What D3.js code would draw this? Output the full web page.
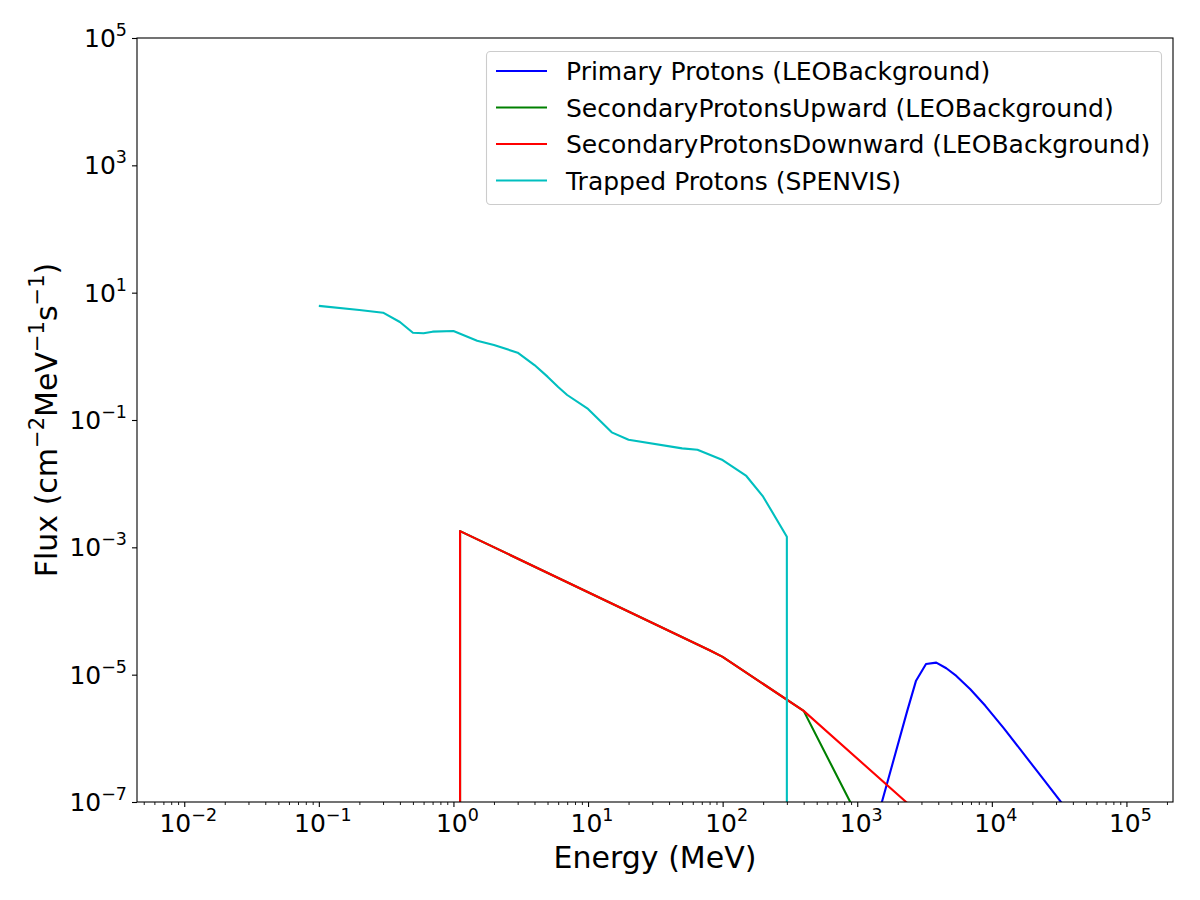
<!DOCTYPE html>
<html><head><meta charset="utf-8">
<script src="https://cdn.jsdelivr.net/npm/d3@7"></script>
<style>body{margin:0;background:#fff}svg{display:block}text{font-family:"DejaVu Sans",sans-serif;fill:#000}</style>
</head><body><svg id="c" width="1200" height="900"></svg>
<script>
// ---- data ----
const trappedE = [0.1, 0.2, 0.3, 0.4, 0.5, 0.6, 0.7, 1, 1.5, 2, 3, 4, 5, 6, 7, 10, 15, 20, 50, 65, 100, 150, 200, 300, 300];
const trappedF = [6.2, 5.35, 4.85, 3.46, 2.35, 2.3, 2.44, 2.5, 1.76, 1.51, 1.14, 0.73, 0.48, 0.33, 0.247, 0.149, 0.064, 0.049, 0.0358, 0.034, 0.0235, 0.0132, 0.00625, 0.00147, 1e-12];
const downE = [1.12, 1.12, 80, 100, 400, 3000];
const downF = [1e-12, 0.0018, 2.42e-5, 1.9e-5, 2.7e-6, 6.1e-8];
const upE = [1.12, 1.12, 80, 100, 400, 1000];
const upF = [1e-12, 0.0018, 2.42e-5, 1.9e-5, 2.7e-6, 6.1e-8];
const primE = [1250, 2344, 2735, 3243, 3866, 4590, 5450, 6920, 8950, 12250, 17260, 24300, 32400, 50000];
const primF = [2.2e-8, 2.63e-6, 8.05e-6, 1.47e-5, 1.545e-5, 1.26e-5, 9.55e-6, 5.9e-6, 3.24e-6, 1.45e-6, 5.7e-7, 2.24e-7, 1.02e-7, 3.2e-8];
const xTickExp = [-2, -1, 0, 1, 2, 3, 4, 5];
const yTickExp = [-7, -5, -3, -1, 1, 3, 5];
const seriesNames = ["Primary Protons (LEOBackground)", "SecondaryProtonsUpward (LEOBackground)", "SecondaryProtonsDownward (LEOBackground)", "Trapped Protons (SPENVIS)"];
const seriesColors = ["#0000ff", "#008000", "#ff0000", "#00bfbf"];

const series = [
  {E: primE, F: primF},
  {E: upE, F: upF},
  {E: downE, F: downF},
  {E: trappedE, F: trappedF}
];

// ---- layout ----
const L = 137, T = 38, R = 1173, B = 802;
const svg = d3.select("#c");
const x = d3.scaleLog().domain([Math.pow(10, -2.351), Math.pow(10, 5.346)]).range([L, R]);
const y = d3.scaleLog().domain([1e-7, 1e5]).range([B, T]);

svg.append("defs").append("clipPath").attr("id", "clip")
  .append("rect").attr("x", L).attr("y", T).attr("width", R - L).attr("height", B - T);

const line = d3.line().x(d => x(d[0])).y(d => y(d[1]));
const g = svg.append("g").attr("clip-path", "url(#clip)");
series.forEach((s, i) => {
  g.append("path").attr("d", line(s.E.map((e, j) => [e, s.F[j]])))
    .attr("fill", "none").attr("stroke", seriesColors[i]).attr("stroke-width", 2.1)
    .attr("stroke-linejoin", "round");
});

// ---- axes ----
const supTick = (sel, exp) => {
  sel.append("tspan").text("10");
  sel.append("tspan").attr("font-size", "17.5px").attr("dy", "-11").text(exp < 0 ? "\u2212" + (-exp) : String(exp));
};

// x minor ticks
const minor = [];
for (let e = -3; e <= 5; e++) for (let m = 2; m <= 9; m++) {
  const v = m * Math.pow(10, e);
  if (v >= x.domain()[0] && v <= x.domain()[1]) minor.push(v);
}
const xa = d3.axisBottom(x).tickValues(minor).tickSize(3).tickFormat("");
svg.append("g").attr("transform", `translate(0,${B})`).call(xa)
  .call(a => { a.select(".domain").remove(); a.selectAll("line").attr("stroke", "#000").attr("stroke-width", 0.9); });
const xMaj = d3.axisBottom(x).tickValues(xTickExp.map(e => Math.pow(10, e))).tickSize(5).tickFormat("");
svg.append("g").attr("transform", `translate(0,${B})`).call(xMaj)
  .call(a => { a.select(".domain").remove(); a.selectAll("line").attr("stroke", "#000").attr("stroke-width", 1.1); });
xTickExp.forEach(e => {
  const t = svg.append("text").attr("x", x(Math.pow(10, e)) + 4).attr("y", 832).attr("text-anchor", "middle").attr("font-size", "25px");
  supTick(t, e);
});

const yMaj = d3.axisLeft(y).tickValues(yTickExp.map(e => Math.pow(10, e))).tickSize(5).tickFormat("");
svg.append("g").attr("transform", `translate(${L},0)`).call(yMaj)
  .call(a => { a.select(".domain").remove(); a.selectAll("line").attr("stroke", "#000").attr("stroke-width", 1.1); });
yTickExp.forEach(e => {
  const t = svg.append("text").attr("x", 127).attr("y", y(Math.pow(10, e)) + 9).attr("text-anchor", "end").attr("font-size", "25px");
  supTick(t, e);
});

// frame
svg.append("rect").attr("x", L).attr("y", T).attr("width", R - L).attr("height", B - T)
  .attr("fill", "none").attr("stroke", "#000").attr("stroke-width", 1.1);

// axis labels
svg.append("text").attr("x", (L + R) / 2).attr("y", 868).attr("text-anchor", "middle").attr("font-size", "30px").text("Energy (MeV)");
const yl = svg.append("text").attr("transform", `translate(57,${(T + B) / 2}) rotate(-90)`).attr("text-anchor", "middle").attr("font-size", "30px");
yl.append("tspan").text("Flux (cm");
yl.append("tspan").attr("font-size", "21px").attr("dy", "-13").text("\u22122");
yl.append("tspan").attr("dy", "13").text("MeV");
yl.append("tspan").attr("font-size", "21px").attr("dy", "-13").text("\u22121");
yl.append("tspan").attr("dy", "13").text("s");
yl.append("tspan").attr("font-size", "21px").attr("dy", "-13").text("\u22121");
yl.append("tspan").attr("dy", "13").text(")");

// legend
const lg = svg.append("g");
lg.append("rect").attr("x", 486.5).attr("y", 51.5).attr("width", 675).attr("height", 153).attr("rx", 4)
  .attr("fill", "#fff").attr("fill-opacity", 0.8).attr("stroke", "#cccccc").attr("stroke-width", 1.1);
seriesNames.forEach((n, i) => {
  const yy = 71 + i * 36.5;
  lg.append("line").attr("x1", 496).attr("x2", 547).attr("y1", yy).attr("y2", yy).attr("stroke", seriesColors[i]).attr("stroke-width", 2.1);
  lg.append("text").attr("x", 566).attr("y", yy + 9).attr("font-size", "25px").text(n);
});
</script></body></html>
